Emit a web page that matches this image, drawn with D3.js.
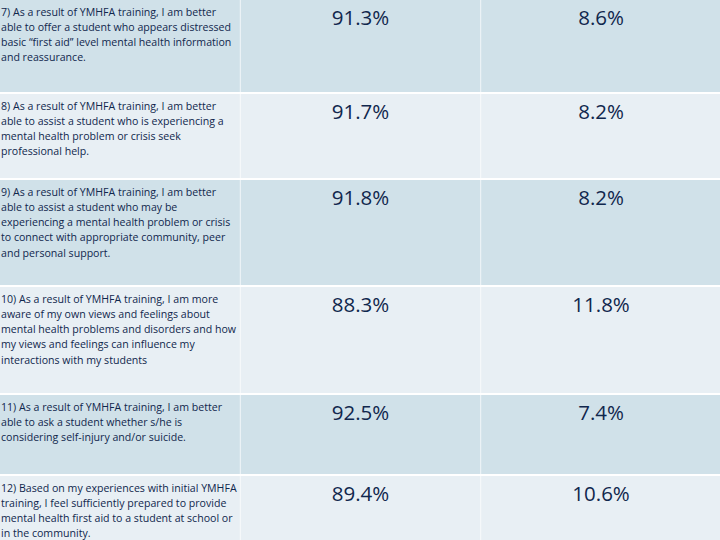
<!DOCTYPE html>
<html>
<head>
<meta charset="utf-8">
<script src="https://cdn.jsdelivr.net/npm/d3@7"></script>
<style>
  html, body { margin: 0; padding: 0; background: #ffffff; }
  svg { display: block; }
</style>
</head>
<body>
<svg id="chart" width="720" height="540"></svg>
<script>
// ---- data ----
const questions = [
  ["7) As a result of YMHFA training, I am better", "able to offer a student who appears distressed", "basic \u201cfirst aid\u201d level mental health information", "and reassurance."],
  ["8) As a result of YMHFA training, I am better", "able to assist a student who is experiencing a", "mental health problem or crisis seek", "professional help."],
  ["9) As a result of YMHFA training, I am better", "able to assist a student who may be", "experiencing a mental health problem or crisis", "to connect with appropriate community, peer", "and personal support."],
  ["10) As a result of YMHFA training, I am more", "aware of my own views and feelings about", "mental health problems and disorders and how", "my views and feelings can influence my", "interactions with my students"],
  ["11) As a result of YMHFA training, I am better", "able to ask a student whether s/he is", "considering self-injury and/or suicide."],
  ["12) Based on my experiences with initial YMHFA", "training, I feel sufficiently prepared to provide", "mental health first aid to a student at school or", "in the community."]
];
const agreeValues = [91.3, 91.7, 91.8, 88.3, 92.5, 89.4];
const disagreeValues = [8.6, 8.2, 8.2, 11.8, 7.4, 10.6];
const columns = ["question", "agree", "disagree"];

// ---- layout ----
const rowTops = [0, 94, 180, 287, 395, 476];
const rowBottoms = [92, 178, 285, 393, 474, 540];
const rowColors = ["#d0e1e9", "#e8eff4"];
const textColor = "#10274d";
const font = "'Open Sans', 'Noto Sans', sans-serif";

const svg = d3.select("#chart");
const x = d3.scaleBand().domain(columns).range([0, 721]).paddingInner(0.003);
const fmt = d => d.toFixed(1) + "%";

const rows = questions.map((q, i) => ({
  i, q, agree: agreeValues[i], disagree: disagreeValues[i],
  y0: rowTops[i], y1: rowBottoms[i]
}));

const g = svg.selectAll("g.row").data(rows).join("g").attr("class", "row");

columns.forEach(c => {
  g.append("rect")
    .attr("x", x(c))
    .attr("y", d => d.y0)
    .attr("width", x.bandwidth())
    .attr("height", d => d.y1 - d.y0)
    .attr("fill", d => rowColors[d.i % 2]);
});

g.append("text")
  .attr("font-family", font)
  .attr("font-size", 10.6)
  .attr("fill", textColor)
  .selectAll("tspan")
  .data(d => d.q.map((line, k) => ({ line, k, y0: d.y0 })))
  .join("tspan")
  .attr("x", x("question") + 1)
  .attr("y", d => d.y0 + 15.5 + d.k * 15.3)
  .text(d => d.line);

["agree", "disagree"].forEach(c => {
  g.append("text")
    .attr("x", x(c) + x.bandwidth() / 2)
    .attr("y", d => d.y0 + 25)
    .attr("text-anchor", "middle")
    .attr("font-family", font)
    .attr("font-size", 20.5)
    .attr("fill", textColor)
    .text(d => fmt(d[c]));
});
</script>
</body>
</html>
